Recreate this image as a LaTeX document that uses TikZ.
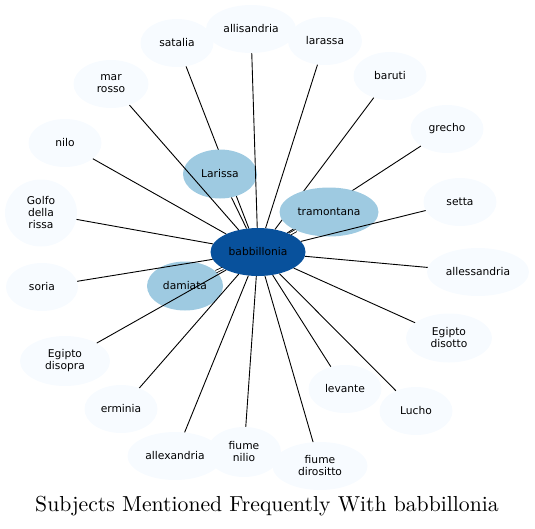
\documentclass[tikz,border=0pt]{standalone}
\usepackage{fontspec}
\newfontfamily\djv{DejaVu Sans}
\newfontfamily\titlefont{lmroman10-regular}[Extension=.otf]
\usetikzlibrary{shapes.geometric}
\definecolor{cLight}{HTML}{F7FBFF}
\definecolor{cMid}{HTML}{9ECAE1}
\definecolor{cDark}{HTML}{08519C}
\begin{document}
\begin{tikzpicture}[x=1pt,y=-1pt,
  nd/.style={ellipse,inner sep=0pt,minimum height=48pt,align=center,
    font=\djv\fontsize{10.7}{12}\selectfont,text=black},
  lt/.style={nd,fill=cLight},
  md/.style={nd,fill=cMid},
  dk/.style={nd,fill=cDark},
  ed/.style={draw=black,line width=0.9pt},
  dbl/.style={draw=black,line width=0.8pt,double=white,double distance=1.6pt}]
\useasboundingbox (0,0) rectangle (535,528);
% satellite nodes
\node[lt,minimum width=73pt] (satalia) at (177,43) {satalia};
\node[lt,minimum width=90pt] (allisandria) at (251,29) {allisandria};
\node[lt,minimum width=74pt] (larassa) at (325,41) {larassa};
\node[lt,minimum width=73pt] (baruti) at (390,76) {baruti};
\node[lt,minimum width=73pt] (grecho) at (447,129) {grecho};
\node[lt,minimum width=73pt] (setta) at (460,202) {setta};
\node[lt,minimum width=102pt] (allessandria) at (478,272) {allessandria};
\node[lt,minimum width=86pt,minimum height=49pt] (egdisotto) at (449,338) {Egipto\\disotto};
\node[lt,minimum width=73pt] (lucho) at (416,411) {Lucho};
\node[lt,minimum width=73pt] (levante) at (345,389) {levante};
\node[lt,minimum width=95pt] (fdirositto) at (320,466) {fiume\\dirositto};
\node[lt,minimum width=95pt] (allexandria) at (175,456) {allexandria};
\node[lt,minimum width=74pt,minimum height=50pt] (fnilio) at (244,452) {fiume\\nilio};
\node[lt,minimum width=73pt] (erminia) at (121,409) {erminia};
\node[lt,minimum width=90pt,minimum height=50pt] (egdisopra) at (65,361) {Egipto\\disopra};
\node[lt,minimum width=72pt] (soria) at (42,287) {soria};
\node[lt,minimum width=72pt,minimum height=67pt] (golfo) at (41,213) {Golfo\\della\\rissa};
\node[lt,minimum width=73pt] (nilo) at (65,143) {nilo};
\node[lt,minimum width=75pt] (marrosso) at (111,84) {mar\\rosso};
% center
\node[dk,minimum width=95pt] (bab) at (258,252) {babbillonia};
% edges hidden behind Larissa and tramontana
\draw[ed] (bab) -- (satalia);
\draw[ed] (bab) -- (baruti);
\draw[ed] (bab) -- (grecho);
\node[md,minimum width=74pt,minimum height=49pt] (larissa) at (220,174) {Larissa};
\node[md,minimum width=99pt,minimum height=49pt] (tramontana) at (329,212) {tramontana};
\node[md,minimum width=76pt,minimum height=49pt] (damiata) at (185,286) {damiata};
% edges
\draw[ed] (bab) -- (larissa);
\draw[dbl] (bab) -- (tramontana);
\draw[dbl] (bab) -- (damiata);
\draw[ed] (bab) -- (allisandria);
\draw[ed] (bab) -- (larassa);
\draw[ed] (bab) -- (setta);
\draw[ed] (bab) -- (allessandria);
\draw[ed] (bab) -- (egdisotto);
\draw[ed] (bab) -- (lucho);
\draw[ed] (bab) -- (levante);
\draw[ed] (bab) -- (fdirositto);
\draw[ed] (bab) -- (fnilio);
\draw[ed] (bab) -- (allexandria);
\draw[ed] (bab) -- (erminia);
\draw[ed] (bab) -- (egdisopra);
\draw[ed] (bab) -- (soria);
\draw[ed] (bab) -- (golfo);
\draw[ed] (bab) -- (nilo);
\draw[ed] (bab) -- (marrosso);
% title
\node[font=\titlefont\fontsize{21.7}{24}\selectfont] (title) at (267,506) {Subjects Mentioned Frequently With babbillonia};
\end{tikzpicture}
\end{document}
